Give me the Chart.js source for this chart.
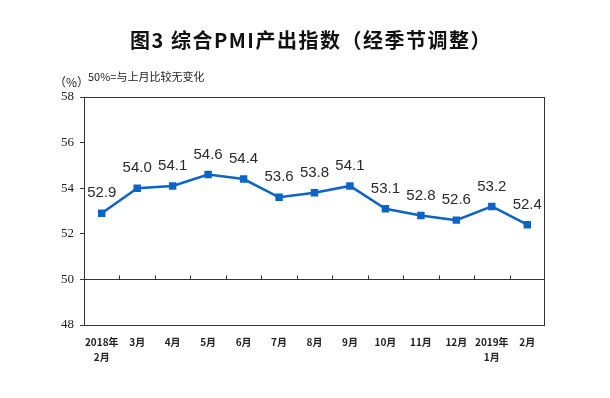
<!DOCTYPE html>
<html>
<head>
<meta charset="utf-8">
<script src="https://cdn.jsdelivr.net/npm/chart.js@4/dist/chart.umd.min.js"></script>
<style>
  html, body { margin: 0; padding: 0; background: #fff; }
  #wrap { width: 610px; height: 398px; }
</style>
</head>
<body>
<div id="wrap"><canvas id="chart" width="610" height="398"></canvas></div>
<script>
var months = [["2018年", "2月"], "3月", "4月", "5月", "6月", "7月", "8月", "9月", "10月", "11月", "12月", ["2019年", "1月"], "2月"];
var pmiOutput = [52.9, 54.0, 54.1, 54.6, 54.4, 53.6, 53.8, 54.1, 53.1, 52.8, 52.6, 53.2, 52.4];
var yMin = 48, yMax = 58, yStep = 2, baseLine = 50;

var lineColor = '#0b64c8';
var ink = '#222';

// title, notes, box, value labels, ticks on the 50 line
var extras = {
  id: 'extras',
  afterDraw: function(chart) {
    var c = chart.ctx, a = chart.chartArea;
    var xs = chart.scales.x, ys = chart.scales.y;
    c.save();

    c.strokeStyle = '#333';
    c.lineWidth = 1;
    c.strokeRect(a.left + 0.5, a.top + 0.5, a.right - a.left - 1, a.bottom - a.top);

    var y50 = Math.round(ys.getPixelForValue(baseLine)) + 0.5;
    c.beginPath();
    for (var i = 1; i < months.length; i++) {
      var bx = Math.round((xs.getPixelForValue(i - 1) + xs.getPixelForValue(i)) / 2) + 0.5;
      c.moveTo(bx, y50);
      c.lineTo(bx, y50 - 4);
    }
    c.stroke();

    c.fillStyle = '#111';
    c.textAlign = 'center';
    c.textBaseline = 'middle';
    c.font = 'bold 20px "Noto Sans CJK SC"';
    c.letterSpacing = '1.5px';
    c.fillText('图3 综合PMI产出指数（经季节调整）', 311, 40);
    c.letterSpacing = '0px';

    c.fillStyle = ink;
    c.font = '12px "Noto Sans CJK SC"';
    c.textAlign = 'left';
    c.fillText('（%）', 54, 82);
    c.font = '11px "Noto Sans CJK SC"';
    c.fillText('50%=与上月比较无变化', 88, 77);

    var meta = chart.getDatasetMeta(0);
    c.font = '15px "Liberation Sans"';
    c.textAlign = 'center';
    c.fillStyle = '#2a2a2a';
    meta.data.forEach(function(pt, k) {
      c.fillText(pmiOutput[k].toFixed(1), pt.x, pt.y - 20);
    });
    c.restore();
  }
};

var ctx = document.getElementById('chart').getContext('2d');
var chart = new Chart(ctx, {
  type: 'line',
  data: {
    labels: months,
    datasets: [{
      label: '综合PMI产出指数',
      data: pmiOutput,
      borderColor: lineColor,
      backgroundColor: lineColor,
      borderWidth: 2.5,
      pointStyle: 'rect',
      pointRadius: 3.5,
      pointHoverRadius: 3.5,
      tension: 0
    }]
  },
  options: {
    responsive: false,
    animation: false,
    events: [],
    layout: { padding: { top: 97, right: 65, left: 0, bottom: 0 } },
    plugins: { legend: { display: false }, title: { display: false }, tooltip: { enabled: false } },
    scales: {
      x: {
        offset: true,
        grid: { display: false },
        border: { display: false },
        ticks: {
          color: ink,
          font: { family: '"Noto Sans CJK SC"', size: 10, weight: 'bold', lineHeight: 1.5 },
          padding: 2,
          maxRotation: 0,
          autoSkip: false
        },
        afterFit: function(s) { s.height = 73; }
      },
      y: {
        min: yMin,
        max: yMax,
        grid: {
          color: function(g) { return g.tick && g.tick.value === baseLine ? '#333' : 'rgba(0,0,0,0)'; },
          tickColor: '#333',
          tickLength: 4,
          drawOnChartArea: true
        },
        border: { display: false },
        ticks: {
          stepSize: yStep,
          color: ink,
          font: { family: '"Liberation Serif"', size: 13 },
          padding: 6
        },
        afterFit: function(s) { s.width = 84; }
      }
    }
  },
  plugins: [extras]
});
</script>
</body>
</html>
